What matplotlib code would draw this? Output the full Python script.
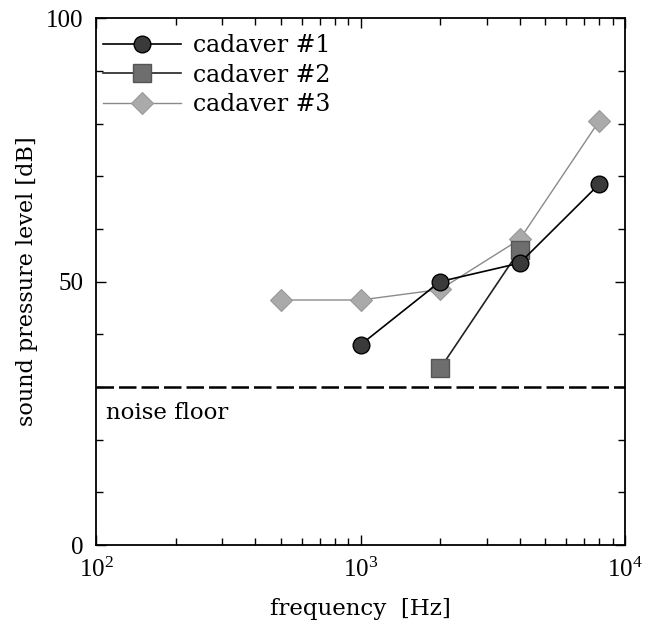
import numpy as np
import matplotlib
matplotlib.use("Agg")
import matplotlib.pyplot as plt
from matplotlib.ticker import MultipleLocator, LogLocator, NullFormatter

plt.rcParams['font.family'] = ['DejaVu Serif']
plt.rcParams['mathtext.fontset'] = 'stix'

# data
freq_1 = [1000, 2000, 4000, 8000]
spl_1 = [38, 50, 53.5, 68.5]

freq_2 = [2000, 4000]
spl_2 = [33.5, 56]

freq_3 = [500, 1000, 2000, 4000, 8000]
spl_3 = [46.5, 46.5, 48.5, 58, 80.5]

noise_floor = 30

fig = plt.figure(figsize=(6.55, 6.25), dpi=100)
ax = fig.add_axes([0.147, 0.128, 0.807, 0.843])

ax.axhline(noise_floor, color='black', lw=1.8, ls=(0, (7, 2)), zorder=1)

ax.plot(freq_1, spl_1, '-o', color='black', lw=1.2, ms=12,
        mfc='#3a3a3a', mec='black', mew=1.0, label='cadaver #1', zorder=4)
ax.plot(freq_2, spl_2, '-s', color='#222222', lw=1.2, ms=13,
        mfc='#6e6e6e', mec='#555555', mew=1.0, label='cadaver #2', zorder=3)
ax.plot(freq_3, spl_3, '-D', color='#8a8a8a', lw=1.0, ms=11,
        mfc='#aaaaaa', mec='#999999', mew=0.8, label='cadaver #3', zorder=2)

ax.text(0.018, 25, 'noise floor', transform=ax.get_yaxis_transform(),
        fontsize=16.5, va='center', ha='left')

ax.set_xscale('log')
ax.set_xlim(100, 10000)
ax.set_ylim(0, 100)
ax.set_yticks([0, 50, 100])
ax.yaxis.set_minor_locator(MultipleLocator(10))
ax.xaxis.set_minor_locator(LogLocator(base=10, subs=np.arange(2, 10)))
ax.xaxis.set_minor_formatter(NullFormatter())

ax.tick_params(which='both', direction='in', top=True, right=True, width=1.0)
ax.tick_params(which='major', length=7, pad=9)
ax.tick_params(which='minor', length=5)
for lab in ax.get_xticklabels() + ax.get_yticklabels():
    lab.set_fontfamily('Liberation Serif')
    lab.set_fontsize(18)
for s in ax.spines.values():
    s.set_linewidth(1.3)

ax.set_xlabel('frequency  [Hz]', fontsize=16.5, labelpad=12)
ax.set_ylabel('sound pressure level [dB]', fontsize=16, labelpad=6)

ax.legend(loc='upper left', bbox_to_anchor=(0.004, 0.979), frameon=False,
          fontsize=17, handlelength=3.3, labelspacing=0.28,
          borderaxespad=0, handletextpad=0.5, borderpad=0.2)

fig.savefig('out.png', dpi=100)
